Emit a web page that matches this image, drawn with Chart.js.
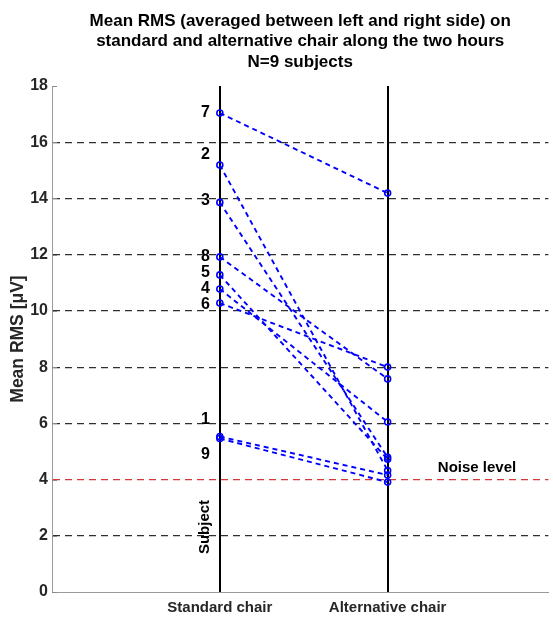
<!DOCTYPE html>
<html>
<head>
<meta charset="utf-8">
<script src="https://cdn.jsdelivr.net/npm/chart.js@4"></script>
<style>
  html, body { margin: 0; padding: 0; background: #fff; }
  #wrap { width: 553px; height: 617px; }
</style>
</head>
<body>
<div id="wrap"><canvas id="c" width="553" height="617"></canvas></div>
<script>
// ---- data ----
const categories = ['Standard chair', 'Alternative chair'];
const subjects = ['7', '2', '3', '8', '5', '4', '6', '1', '9'];
const standardChair = [17.04, 15.19, 13.86, 11.92, 11.28, 10.78, 10.28, 5.53, 5.46];
const alternativeChair = [14.19, 4.32, 4.79, 7.58, 4.72, 6.05, 8.00, 4.16, 3.91];
const yTicks = [0, 2, 4, 6, 8, 10, 12, 14, 16, 18];
const noiseLevel = 4;
const titleLines = [
  'Mean RMS (averaged between left and right side) on',
  'standard and alternative chair along the two hours',
  'N=9 subjects'
];

// ---- styles ----
const FONT = '"Liberation Sans", Arial, Helvetica, sans-serif';
const BLUE = '#0000ff';
const labelDy = { '7': 0, '2': -10, '3': -2, '8': 0, '5': -2, '4': 0, '6': 2, '1': -17, '9': 16 };

const datasets = subjects.map((s, i) => ({
  label: 'Subject ' + s,
  data: [{ x: 1, y: standardChair[i] }, { x: 2, y: alternativeChair[i] }],
  showLine: true,
  borderColor: BLUE,
  borderWidth: 1.9,
  borderDash: [5, 4],
  pointRadius: 3,
  pointBorderWidth: 1.6,
  pointBorderColor: BLUE,
  pointBackgroundColor: 'rgba(0,0,0,0)',
  pointHoverRadius: 3
}));

const textPlugin = {
  id: 'texts',
  afterDatasetsDraw(chart) {
    const ctx = chart.ctx;
    const area = chart.chartArea;
    const xs = chart.scales.x, ys = chart.scales.y;
    ctx.save();
    ctx.fillStyle = '#000';
    // left-axis inward tick marks
    ctx.strokeStyle = '#8a8a8a';
    ctx.lineWidth = 1;
    yTicks.forEach(v => {
      const y = Math.round(ys.getPixelForValue(v)) + 0.5;
      ctx.beginPath();
      ctx.moveTo(area.left, y);
      ctx.lineTo(area.left + 5, y);
      ctx.stroke();
    });
    // subject labels
    ctx.font = 'bold 16px ' + FONT;
    ctx.textAlign = 'right';
    ctx.textBaseline = 'middle';
    subjects.forEach((s, i) => {
      const p = chart.getDatasetMeta(i).data[0];
      ctx.fillText(s, p.x - 10, p.y + (labelDy[s] || 0));
    });
    // Noise level
    ctx.font = 'bold 15px ' + FONT;
    ctx.textAlign = 'center';
    ctx.textBaseline = 'alphabetic';
    ctx.fillText('Noise level', 477, ys.getPixelForValue(noiseLevel) - 8);
    // Subject (rotated)
    ctx.save();
    ctx.translate(xs.getPixelForValue(1) - 15, 527);
    ctx.rotate(-Math.PI / 2);
    ctx.textAlign = 'center';
    ctx.textBaseline = 'middle';
    ctx.font = 'bold 15px ' + FONT;
    ctx.fillText('Subject', 0, 0);
    ctx.restore();
    ctx.restore();
  },
  afterDraw(chart) {
    const ctx = chart.ctx;
    const area = chart.chartArea;
    ctx.save();
    ctx.fillStyle = '#000';
    ctx.font = 'bold 17px ' + FONT;
    ctx.textAlign = 'center';
    ctx.textBaseline = 'middle';
    const cx = (area.left + area.right) / 2;
    titleLines.forEach((t, i) => ctx.fillText(t, cx, 21 + i * 20.5));
    ctx.restore();
  }
};

new Chart(document.getElementById('c'), {
  type: 'scatter',
  data: { datasets },
  plugins: [textPlugin],
  options: {
    responsive: false,
    animation: false,
    layout: { padding: { top: 86, right: 0, left: 0, bottom: 0 } },
    plugins: { legend: { display: false }, tooltip: { enabled: false }, title: { display: false } },
    scales: {
      x: {
        type: 'linear',
        min: 0,
        max: 2.958,
        afterBuildTicks: (s) => { s.ticks = [{ value: 1 }, { value: 2 }]; },
        afterFit: (s) => { s.height = 25; },
        ticks: {
          autoSkip: false,
          maxRotation: 0,
          padding: 7,
          color: '#262626',
          font: { family: FONT, size: 15, weight: 'bold' },
          callback: (v) => categories[v - 1] || ''
        },
        grid: { color: '#000', lineWidth: 2, drawTicks: false },
        border: { display: true, color: '#9a9a9a', width: 1 }
      },
      y: {
        min: 0,
        max: 18,
        afterBuildTicks: (s) => { s.ticks = yTicks.map(v => ({ value: v })); },
        afterFit: (s) => { s.width = 52; },
        ticks: {
          padding: 4,
          color: '#262626',
          font: { family: FONT, size: 16, weight: 'bold' }
        },
        grid: {
          drawTicks: false,
          lineWidth: 1.2,
          color: (c) => {
            const v = c.tick && c.tick.value;
            if (v === 0 || v === 18) return 'rgba(0,0,0,0)';
            if (v === noiseLevel) return '#d03c3c';
            return '#303030';
          }
        },
        border: { display: true, color: '#9a9a9a', width: 1, dash: [7, 5] },
        title: {
          display: true,
          text: 'Mean RMS [μV]',
          color: '#262626',
          padding: { top: 8, bottom: 0 },
          font: { family: FONT, size: 17.5, weight: 'bold' }
        }
      }
    }
  }
});
</script>
</body>
</html>
